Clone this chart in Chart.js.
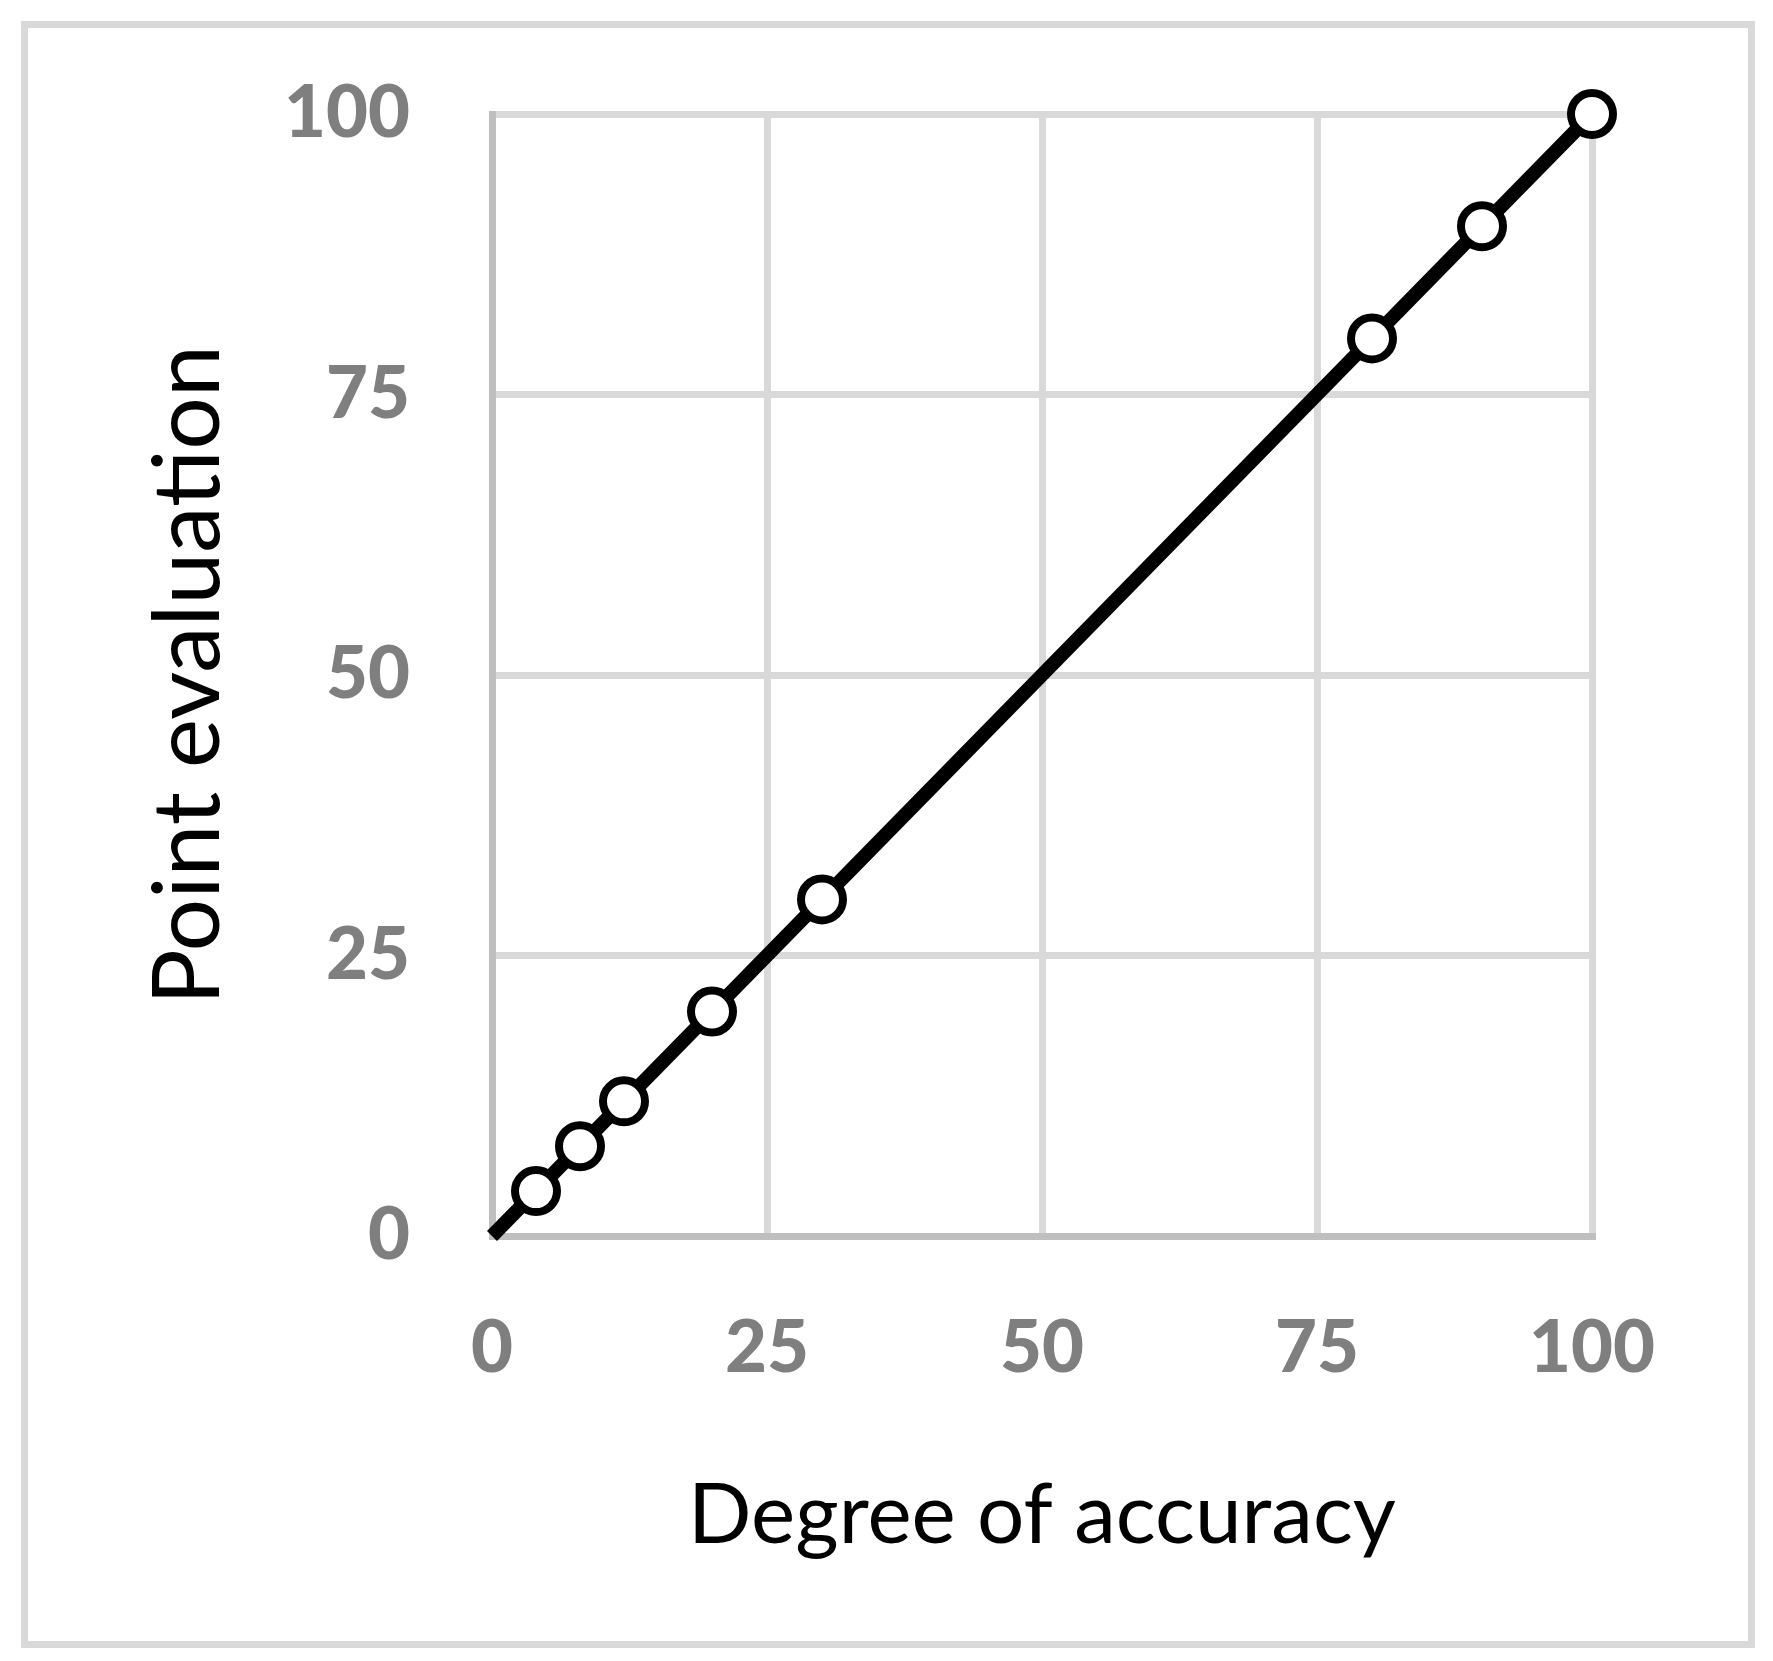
<!DOCTYPE html>
<html><head><meta charset="utf-8">
<script src="https://cdn.jsdelivr.net/npm/chart.js@4.4.0/dist/chart.umd.min.js"></script>
<style>html,body{margin:0;padding:0;background:#fff;overflow:hidden;}</style>
</head><body>
<canvas id="c" width="1773" height="1661"></canvas>
<script>
// ---- data ----
const accuracy = [0, 4, 8, 12, 20, 30, 80, 90, 100];
const pointEval = [0, 4, 8, 12, 20, 30, 80, 90, 100];
const tickStep = 25;
const axisMin = 0;
const axisMax = 100;
const xTitle = 'Degree of accuracy';
const yTitle = 'Point evaluation';

// ---- helpers ----
function fitSize(text, weight, targetW) {
  const ctx = document.createElement('canvas').getContext('2d');
  ctx.font = weight + ' 100px Lato';
  return 100 * targetW / ctx.measureText(text).width;
}

function build() {
  const tickWeight = '900';
  const tickSize = fitSize('100', tickWeight, 126);
  const xTitleSize = fitSize(xTitle, 'normal', 708);
  const yTitleSize = fitSize(yTitle, 'normal', 660);

  const frame = {
    id: 'frame',
    beforeDraw(chart) {
      const c = chart.ctx;
      c.save();
      c.fillStyle = '#fff';
      c.fillRect(0, 0, chart.width, chart.height);
      c.strokeStyle = '#d9d9d9';
      c.lineWidth = 7;
      c.strokeRect(24.5, 24.5, 1727, 1620);
      c.restore();
    }
  };

  new Chart(document.getElementById('c'), {
    type: 'scatter',
    data: {
      datasets: [{
        data: accuracy.map((x, i) => ({ x: x, y: pointEval[i] })),
        showLine: true,
        borderColor: '#000',
        borderWidth: 14,
        pointRadius: ctx => ctx.dataIndex === 0 ? 0 : 21,
        pointBorderWidth: 8,
        pointBackgroundColor: '#fff',
        pointBorderColor: '#000',
        clip: false
      }]
    },
    options: {
      responsive: false,
      animation: false,
      devicePixelRatio: 1,
      layout: { padding: { left: 30, top: 114, right: 181, bottom: 30 } },
      plugins: { legend: { display: false }, tooltip: { enabled: false } },
      scales: {
        x: {
          type: 'linear', min: axisMin, max: axisMax,
          ticks: { stepSize: tickStep, color: '#7f7f7f', maxRotation: 0,
                   font: { family: 'Lato', weight: tickWeight, size: tickSize },
                   padding: 1349 - 1236 - 0.6 * tickSize },
          grid: { color: '#d9d9d9', lineWidth: 7, drawTicks: false },
          border: { color: '#bfbfbf', width: 7 },
          title: { display: true, text: xTitle, color: '#000',
                   font: { family: 'Lato', size: xTitleSize, weight: 'normal' },
                   padding: { top: 0, bottom: 83 - 0.213 * xTitleSize } },
          afterFit(s) { s.height = 395; s.paddingLeft = 0; s.paddingRight = 0; }
        },
        y: {
          type: 'linear', min: axisMin, max: axisMax,
          ticks: { stepSize: tickStep, color: '#7f7f7f',
                   font: { family: 'Lato', weight: tickWeight, size: tickSize },
                   padding: 82 },
          grid: { color: '#d9d9d9', lineWidth: 7, drawTicks: false },
          border: { color: '#bfbfbf', width: 7 },
          title: { display: true, text: yTitle, color: '#000',
                   font: { family: 'Lato', size: yTitleSize, weight: 'normal' },
                   padding: { top: 195 - 0.987 * yTitleSize, bottom: 0 } },
          afterFit(s) { s.width = 462; s.paddingTop = 0; s.paddingBottom = 0; }
        }
      }
    },
    plugins: [frame]
  });
}

if (document.fonts && document.fonts.load) {
  Promise.all([
    document.fonts.load('900 70px Lato'),
    document.fonts.load('normal 70px Lato')
  ]).then(build, build);
} else {
  build();
}
</script>
</body></html>
